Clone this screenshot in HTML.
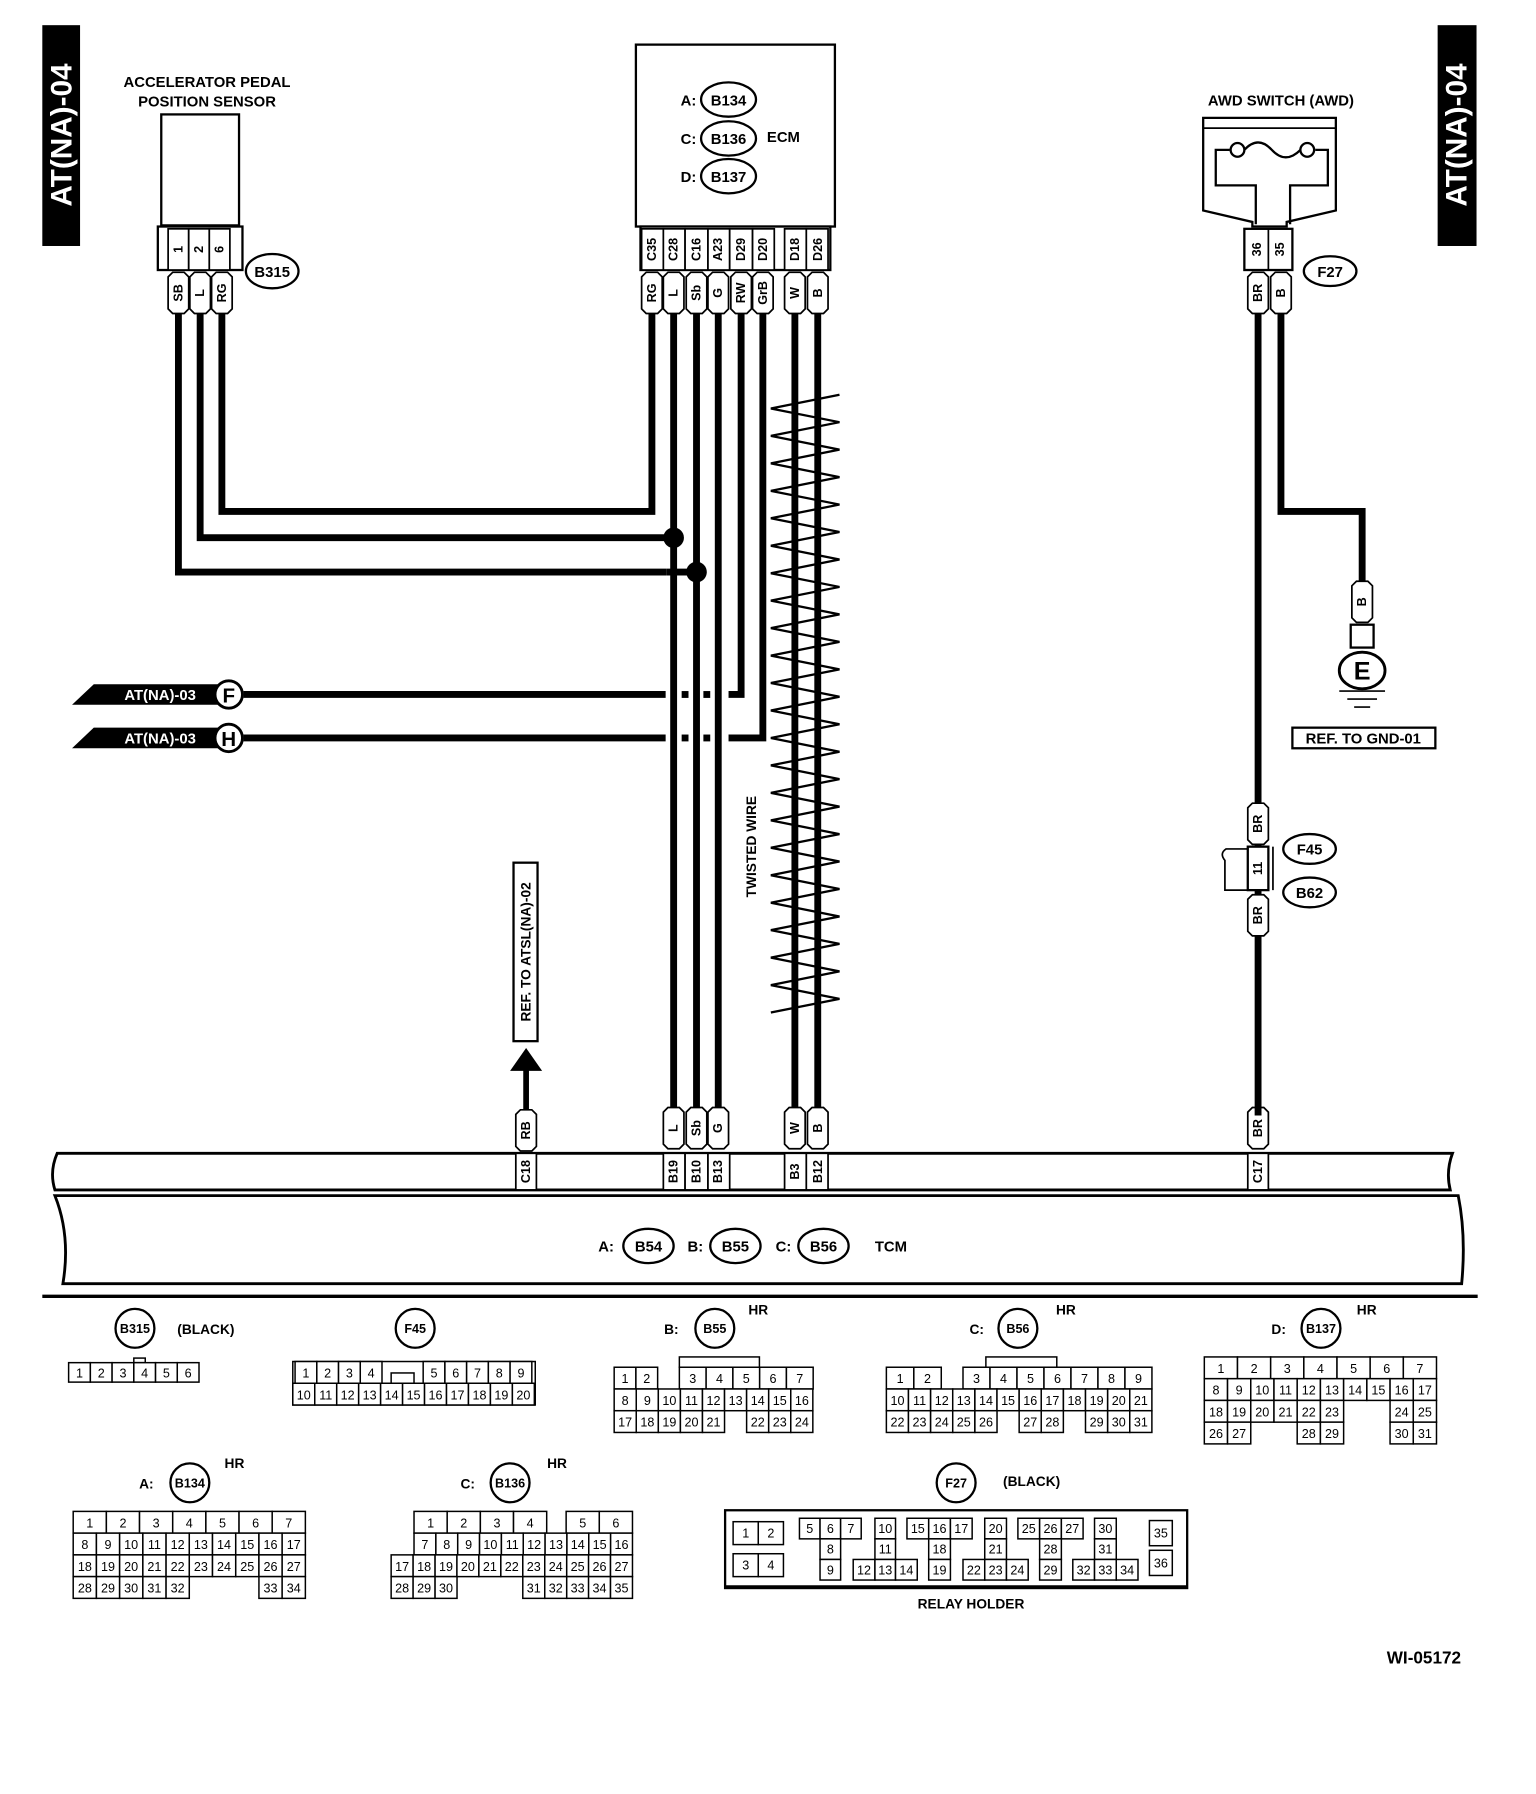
<!DOCTYPE html>
<html><head><meta charset="utf-8"><style>
html,body{margin:0;padding:0;background:#fff}
svg{display:block}
text{font-family:"Liberation Sans",sans-serif;font-weight:bold;fill:#000}
.g rect{fill:#fff;stroke:#000;stroke-width:1.3}
.g text{font-size:11px;font-weight:normal;text-anchor:middle}
.w{fill:none;stroke:#000;stroke-width:6}
.pl text{font-size:11px;text-anchor:middle;dominant-baseline:central}
.hd text{font-size:11px}
</style></head><body>
<svg width="1536" height="1794" viewBox="0 0 1343 1568" preserveAspectRatio="none" xmlns="http://www.w3.org/2000/svg">
<defs>
<polygon id="wl" points="-9,4 -5,0 5,0 9,4 9,32 5,36 -5,36 -9,32" fill="#fff" stroke="#000" stroke-width="1.5"/>
</defs>
<!-- side tabs -->
<rect x="37" y="22" width="33" height="193" fill="#000"/>
<text transform="translate(54,118) rotate(-90)" text-anchor="middle" dominant-baseline="central" style="fill:#fff;font-size:26px">AT(NA)-04</text>
<rect x="1257" y="22" width="34" height="193" fill="#000"/>
<text transform="translate(1274,118) rotate(-90)" text-anchor="middle" dominant-baseline="central" style="fill:#fff;font-size:26px">AT(NA)-04</text>

<!-- Accelerator sensor -->
<text x="181" y="76" text-anchor="middle" font-size="13">ACCELERATOR PEDAL</text>
<text x="181" y="93" text-anchor="middle" font-size="13">POSITION SENSOR</text>
<rect x="141" y="100" width="68" height="97" fill="#fff" stroke="#000" stroke-width="2"/>
<rect x="138" y="198" width="74" height="38" fill="#fff" stroke="#000" stroke-width="2"/>
<g fill="#fff" stroke="#000" stroke-width="1.5"><rect x="147" y="200" width="18" height="36"/><rect x="165" y="200" width="18" height="36"/><rect x="183" y="200" width="18" height="36"/></g>
<g class="pl"><text transform="translate(156,218) rotate(-90)">1</text><text transform="translate(174,218) rotate(-90)">2</text><text transform="translate(192,218) rotate(-90)">6</text></g>
<ellipse cx="238" cy="237" rx="23" ry="15" fill="#fff" stroke="#000" stroke-width="2"/>
<text x="238" y="242" text-anchor="middle" font-size="13">B315</text>

<!-- ECM -->
<rect x="556" y="39" width="174" height="159" fill="#fff" stroke="#000" stroke-width="2"/>
<g font-size="13"><text x="602" y="92" text-anchor="middle">A:</text><text x="602" y="126" text-anchor="middle">C:</text><text x="602" y="159" text-anchor="middle">D:</text><text x="685" y="124" text-anchor="middle">ECM</text></g>
<g fill="#fff" stroke="#000" stroke-width="2"><ellipse cx="637" cy="87" rx="24" ry="15"/><ellipse cx="637" cy="121" rx="24" ry="15"/><ellipse cx="637" cy="154" rx="24" ry="15"/></g>
<g font-size="13" text-anchor="middle"><text x="637" y="92">B134</text><text x="637" y="126">B136</text><text x="637" y="159">B137</text></g>
<rect x="560" y="198" width="166" height="38" fill="#fff" stroke="#000" stroke-width="2"/>
<g fill="#fff" stroke="#000" stroke-width="1.5"><rect x="561" y="200" width="19" height="36"/><rect x="580" y="200" width="19" height="36"/><rect x="599" y="200" width="20" height="36"/><rect x="619" y="200" width="19" height="36"/><rect x="638" y="200" width="20" height="36"/><rect x="658" y="200" width="19" height="36"/><rect x="686" y="200" width="19" height="36"/><rect x="705" y="200" width="19" height="36"/></g>
<g class="pl"><text transform="translate(570,218) rotate(-90)">C35</text><text transform="translate(589,218) rotate(-90)">C28</text><text transform="translate(609,218) rotate(-90)">C16</text><text transform="translate(628,218) rotate(-90)">A23</text><text transform="translate(648,218) rotate(-90)">D29</text><text transform="translate(667,218) rotate(-90)">D20</text><text transform="translate(695,218) rotate(-90)">D18</text><text transform="translate(715,218) rotate(-90)">D26</text></g>

<!-- wires -->
<polyline class="w" points="570,270 570,447 194,447 194,270"/>
<polyline class="w" points="589,270 589,975"/>
<polyline class="w" points="175,270 175,470 589,470"/>
<polyline class="w" points="609,270 609,975"/>
<polyline class="w" points="156,270 156,500 583,500"/>
<line class="w" x1="583" y1="500" x2="609" y2="500"/>
<circle cx="589" cy="470" r="9"/><circle cx="609" cy="500" r="9"/>
<polyline class="w" points="628,270 628,975"/>
<polyline class="w" points="648,270 648,607 637,607"/>
<line class="w" x1="213" y1="607" x2="582" y2="607"/>
<line class="w" x1="596" y1="607" x2="602" y2="607"/><line class="w" x1="615" y1="607" x2="621" y2="607"/>
<polyline class="w" points="667,270 667,645 637,645"/>
<line class="w" x1="213" y1="645" x2="582" y2="645"/>
<line class="w" x1="596" y1="645" x2="602" y2="645"/><line class="w" x1="615" y1="645" x2="621" y2="645"/>
<polyline class="w" points="695,270 695,975"/>
<polyline class="w" points="715,270 715,975"/>
<polyline fill="none" stroke="#000" stroke-width="2" points="734,345 674,357 734,369 674,381 734,393 674,405 734,417 674,429 734,441 674,453 734,465 674,477 734,489 674,501 734,513 674,525 734,537 674,549 734,561 674,573 734,585 674,597 734,609 674,621 734,633 674,645 734,657 674,669 734,681 674,693 734,705 674,717 734,729 674,741 734,753 674,765 734,777 674,789 734,801 674,813 734,825 674,837 734,849 674,861 734,873 674,885 734"/>
<text transform="translate(661,740) rotate(-90)" text-anchor="middle" font-size="12">TWISTED WIRE</text>

<!-- ECM wire labels -->
<use href="#wl" x="570" y="238"/><use href="#wl" x="589" y="238"/><use href="#wl" x="609" y="238"/><use href="#wl" x="628" y="238"/><use href="#wl" x="648" y="238"/><use href="#wl" x="667" y="238"/><use href="#wl" x="695" y="238"/><use href="#wl" x="715" y="238"/>
<use href="#wl" x="156" y="238"/><use href="#wl" x="175" y="238"/><use href="#wl" x="194" y="238"/>
<g class="pl"><text transform="translate(570,256) rotate(-90)">RG</text><text transform="translate(589,256) rotate(-90)">L</text><text transform="translate(609,256) rotate(-90)">Sb</text><text transform="translate(628,256) rotate(-90)">G</text><text transform="translate(648,256) rotate(-90)">RW</text><text transform="translate(667,256) rotate(-90)">GrB</text><text transform="translate(695,256) rotate(-90)">W</text><text transform="translate(715,256) rotate(-90)">B</text>
<text transform="translate(156,256) rotate(-90)">SB</text><text transform="translate(175,256) rotate(-90)">L</text><text transform="translate(194,256) rotate(-90)">RG</text></g>

<!-- F/H flags -->
<polygon points="63,616 82,598 200,598 200,616" fill="#000"/>
<text x="140" y="612" text-anchor="middle" font-size="13" font-weight="normal" style="fill:#fff">AT(NA)-03</text>
<circle cx="200" cy="607" r="12" fill="#fff" stroke="#000" stroke-width="2.5"/><text x="200" y="614" text-anchor="middle" font-size="18">F</text>
<polygon points="63,654 82,636 200,636 200,654" fill="#000"/>
<text x="140" y="650" text-anchor="middle" font-size="13" font-weight="normal" style="fill:#fff">AT(NA)-03</text>
<circle cx="200" cy="645" r="12" fill="#fff" stroke="#000" stroke-width="2.5"/><text x="200" y="652" text-anchor="middle" font-size="18">H</text>

<!-- REF ATSL -->
<rect x="449" y="754" width="21" height="156" fill="#fff" stroke="#000" stroke-width="2"/>
<text transform="translate(460,832) rotate(-90)" text-anchor="middle" dominant-baseline="central" font-size="12">REF. TO ATSL(NA)-02</text>
<polygon points="460,916 446,936 474,936" fill="#000"/>
<line x1="460" y1="934" x2="460" y2="975" stroke="#000" stroke-width="5"/>

<!-- bottom wire labels -->
<use href="#wl" x="460" y="970"/><use href="#wl" x="589" y="968"/><use href="#wl" x="609" y="968"/><use href="#wl" x="628" y="968"/><use href="#wl" x="695" y="968"/><use href="#wl" x="715" y="968"/><use href="#wl" x="1100" y="968"/>
<g class="pl"><text transform="translate(460,988) rotate(-90)">RB</text><text transform="translate(589,986) rotate(-90)">L</text><text transform="translate(609,986) rotate(-90)">Sb</text><text transform="translate(628,986) rotate(-90)">G</text><text transform="translate(695,986) rotate(-90)">W</text><text transform="translate(715,986) rotate(-90)">B</text><text transform="translate(1100,986) rotate(-90)">BR</text></g>

<!-- TCM -->
<path d="M50,1008 L1270,1008 Q1264,1024 1268,1040 L48,1040 Q43,1024 50,1008 Z" fill="#fff" stroke="#000" stroke-width="2.5"/>
<path d="M48,1045 L1275,1045 Q1282,1080 1278,1122 L55,1122 Q62,1080 48,1045 Z" fill="#fff" stroke="#000" stroke-width="2.5"/>
<g fill="#fff" stroke="#000" stroke-width="1.5"><rect x="451" y="1008" width="18" height="32"/><rect x="580" y="1008" width="19" height="32"/><rect x="599" y="1008" width="20" height="32"/><rect x="619" y="1008" width="19" height="32"/><rect x="686" y="1008" width="19" height="32"/><rect x="705" y="1008" width="19" height="32"/><rect x="1091" y="1008" width="18" height="32"/></g>
<g class="pl"><text transform="translate(460,1024) rotate(-90)">C18</text><text transform="translate(589,1024) rotate(-90)">B19</text><text transform="translate(609,1024) rotate(-90)">B10</text><text transform="translate(628,1024) rotate(-90)">B13</text><text transform="translate(695,1024) rotate(-90)">B3</text><text transform="translate(715,1024) rotate(-90)">B12</text><text transform="translate(1100,1024) rotate(-90)">C17</text></g>
<g font-size="13" text-anchor="middle"><text x="530" y="1094">A:</text><text x="608" y="1094">B:</text><text x="685" y="1094">C:</text><text x="779" y="1094">TCM</text></g>
<g fill="#fff" stroke="#000" stroke-width="2"><ellipse cx="567" cy="1089" rx="22" ry="15"/><ellipse cx="643" cy="1089" rx="22" ry="15"/><ellipse cx="720" cy="1089" rx="22" ry="15"/></g>
<g font-size="13" text-anchor="middle"><text x="567" y="1094">B54</text><text x="643" y="1094">B55</text><text x="720" y="1094">B56</text></g>
<line x1="37" y1="1133" x2="1292" y2="1133" stroke="#000" stroke-width="3"/>

<!-- AWD switch -->
<text x="1120" y="92" text-anchor="middle" font-size="13">AWD SWITCH (AWD)</text>
<path d="M1052,103 H1168 V184 L1125,194 V198 H1095 V194 L1052,184 Z" fill="#fff" stroke="#000" stroke-width="2"/>
<line x1="1052" y1="112" x2="1168" y2="112" stroke="#000" stroke-width="1.5"/>
<path d="M1098,196 V162 H1063 V131 H1075 M1150,131 H1161 V162 H1128 V196" fill="none" stroke="#000" stroke-width="2"/>
<circle cx="1082" cy="131" r="6" fill="#fff" stroke="#000" stroke-width="2"/><circle cx="1143" cy="131" r="6" fill="#fff" stroke="#000" stroke-width="2"/>
<path d="M1088,131 Q1100,118 1112,131 Q1124,144 1137,131" fill="none" stroke="#000" stroke-width="2"/>
<rect x="1088" y="200" width="42" height="36" fill="#fff" stroke="#000" stroke-width="2"/>
<line x1="1109" y1="200" x2="1109" y2="236" stroke="#000" stroke-width="1.5"/>
<g class="pl"><text transform="translate(1099,218) rotate(-90)">36</text><text transform="translate(1119,218) rotate(-90)">35</text></g>
<ellipse cx="1163" cy="237" rx="23" ry="13" fill="#fff" stroke="#000" stroke-width="2"/><text x="1163" y="242" text-anchor="middle" font-size="13">F27</text>
<polyline class="w" points="1100,270 1100,975"/>
<polyline class="w" points="1120,270 1120,447 1191,447 1191,510"/>
<use href="#wl" x="1100" y="238"/><use href="#wl" x="1120" y="238"/>
<g class="pl"><text transform="translate(1100,256) rotate(-90)">BR</text><text transform="translate(1120,256) rotate(-90)">B</text></g>
<use href="#wl" x="1191" y="508"/>
<g class="pl"><text transform="translate(1191,526) rotate(-90)">B</text></g>
<rect x="1181" y="546" width="20" height="20" fill="#fff" stroke="#000" stroke-width="2"/>
<ellipse cx="1191" cy="586" rx="20" ry="16" fill="#fff" stroke="#000" stroke-width="2.5"/><text x="1191" y="594" text-anchor="middle" font-size="22">E</text>
<g stroke="#000" stroke-width="1.5"><line x1="1171" y1="604" x2="1211" y2="604"/><line x1="1178" y1="611" x2="1204" y2="611"/><line x1="1184" y1="618" x2="1198" y2="618"/></g>
<rect x="1130" y="636" width="125" height="18" fill="#fff" stroke="#000" stroke-width="2"/>
<text x="1192" y="650" text-anchor="middle" font-size="13">REF. TO GND-01</text>
<!-- F45/B62 -->
<use href="#wl" x="1100" y="702"/><use href="#wl" x="1100" y="782"/>
<rect x="1091" y="740" width="18" height="38" fill="#fff" stroke="#000" stroke-width="2"/>
<path d="M1091,742 H1072 Q1066,746 1071,752 V778 H1091" fill="none" stroke="#000" stroke-width="1.5"/>
<line x1="1113" y1="740" x2="1113" y2="778" stroke="#000" stroke-width="1.5"/>
<g class="pl"><text transform="translate(1100,720) rotate(-90)">BR</text><text transform="translate(1100,759) rotate(-90)">11</text><text transform="translate(1100,800) rotate(-90)">BR</text></g>
<ellipse cx="1145" cy="742" rx="23" ry="13" fill="#fff" stroke="#000" stroke-width="2"/><text x="1145" y="747" text-anchor="middle" font-size="13">F45</text>
<ellipse cx="1145" cy="780" rx="23" ry="13" fill="#fff" stroke="#000" stroke-width="2"/><text x="1145" y="785" text-anchor="middle" font-size="13">B62</text>

<!-- connector headers -->
<g fill="#fff" stroke="#000" stroke-width="2">
<ellipse cx="118" cy="1161" rx="17" ry="17"/><ellipse cx="363" cy="1161" rx="17" ry="17"/><ellipse cx="625" cy="1161" rx="17" ry="17"/><ellipse cx="890" cy="1161" rx="17" ry="17"/><ellipse cx="1155" cy="1161" rx="17" ry="17"/>
<ellipse cx="166" cy="1296" rx="17" ry="17"/><ellipse cx="446" cy="1296" rx="17" ry="17"/><ellipse cx="836" cy="1296" rx="17" ry="17"/></g>
<g font-size="12" text-anchor="middle">
<text x="118" y="1165" font-size="11">B315</text><text x="180" y="1166">(BLACK)</text><text x="363" y="1165" font-size="11">F45</text>
<text x="587" y="1166">B:</text><text x="625" y="1165" font-size="11">B55</text><text x="663" y="1149">HR</text>
<text x="854" y="1166">C:</text><text x="890" y="1165" font-size="11">B56</text><text x="932" y="1149">HR</text>
<text x="1118" y="1166">D:</text><text x="1155" y="1165" font-size="11">B137</text><text x="1195" y="1149">HR</text>
<text x="128" y="1301">A:</text><text x="166" y="1300" font-size="11">B134</text><text x="205" y="1283">HR</text>
<text x="409" y="1301">C:</text><text x="446" y="1300" font-size="11">B136</text><text x="487" y="1283">HR</text>
<text x="836" y="1300" font-size="11">F27</text><text x="902" y="1299">(BLACK)</text>
<text x="849" y="1406">RELAY HOLDER</text>
</g>
<text x="1245" y="1454" text-anchor="middle" font-size="15" font-weight="normal">WI-05172</text>

<!-- B315 grid -->
<g class="g">
<rect x="117" y="1187" width="10" height="4"/>
<rect x="60" y="1191" width="19" height="17"/><text x="69.5" y="1204">1</text>
<rect x="79" y="1191" width="19" height="17"/><text x="88.5" y="1204">2</text>
<rect x="98" y="1191" width="19" height="17"/><text x="107.5" y="1204">3</text>
<rect x="117" y="1191" width="19" height="17"/><text x="126.5" y="1204">4</text>
<rect x="136" y="1191" width="19" height="17"/><text x="145.5" y="1204">5</text>
<rect x="155" y="1191" width="19" height="17"/><text x="164.5" y="1204">6</text>
</g>
<!-- F45 grid -->
<g class="g">
<rect x="256" y="1190" width="212" height="38"/>
<rect x="258" y="1190" width="19" height="19"/><text x="267.5" y="1204">1</text>
<rect x="277" y="1190" width="19" height="19"/><text x="286.5" y="1204">2</text>
<rect x="296" y="1190" width="19" height="19"/><text x="305.5" y="1204">3</text>
<rect x="315" y="1190" width="19" height="19"/><text x="324.5" y="1204">4</text>
<rect x="342" y="1200" width="20" height="9"/>
<rect x="370" y="1190" width="19" height="19"/><text x="379.5" y="1204">5</text>
<rect x="389" y="1190" width="19" height="19"/><text x="398.5" y="1204">6</text>
<rect x="408" y="1190" width="19" height="19"/><text x="417.5" y="1204">7</text>
<rect x="427" y="1190" width="19" height="19"/><text x="436.5" y="1204">8</text>
<rect x="446" y="1190" width="19" height="19"/><text x="455.5" y="1204">9</text>
<rect x="256" y="1209" width="19.2" height="19"/><text x="265.6" y="1223">10</text>
<rect x="275.2" y="1209" width="19.2" height="19"/><text x="284.8" y="1223">11</text>
<rect x="294.4" y="1209" width="19.2" height="19"/><text x="304" y="1223">12</text>
<rect x="313.6" y="1209" width="19.2" height="19"/><text x="323.2" y="1223">13</text>
<rect x="332.8" y="1209" width="19.2" height="19"/><text x="342.4" y="1223">14</text>
<rect x="352" y="1209" width="19.2" height="19"/><text x="361.6" y="1223">15</text>
<rect x="371.2" y="1209" width="19.2" height="19"/><text x="380.8" y="1223">16</text>
<rect x="390.4" y="1209" width="19.2" height="19"/><text x="400" y="1223">17</text>
<rect x="409.6" y="1209" width="19.2" height="19"/><text x="419.2" y="1223">18</text>
<rect x="428.8" y="1209" width="19.2" height="19"/><text x="438.4" y="1223">19</text>
<rect x="448" y="1209" width="19.2" height="19"/><text x="457.6" y="1223">20</text>
</g>
<!-- B55 grid -->
<g class="g">
<rect x="594" y="1186" width="70" height="9"/>
<rect x="537" y="1195" width="19" height="19"/><text x="546.5" y="1209">1</text>
<rect x="556" y="1195" width="19" height="19"/><text x="565.5" y="1209">2</text>
<rect x="594" y="1195" width="23.4" height="19"/><text x="605.7" y="1209">3</text>
<rect x="617.4" y="1195" width="23.4" height="19"/><text x="629.1" y="1209">4</text>
<rect x="640.8" y="1195" width="23.4" height="19"/><text x="652.5" y="1209">5</text>
<rect x="664.2" y="1195" width="23.4" height="19"/><text x="675.9" y="1209">6</text>
<rect x="687.6" y="1195" width="23.4" height="19"/><text x="699.3" y="1209">7</text>
<rect x="537" y="1214" width="19.3" height="19"/><text x="546.6" y="1228">8</text>
<rect x="556.3" y="1214" width="19.3" height="19"/><text x="566" y="1228">9</text>
<rect x="575.6" y="1214" width="19.3" height="19"/><text x="585.3" y="1228">10</text>
<rect x="594.9" y="1214" width="19.3" height="19"/><text x="604.6" y="1228">11</text>
<rect x="614.2" y="1214" width="19.3" height="19"/><text x="623.9" y="1228">12</text>
<rect x="633.5" y="1214" width="19.3" height="19"/><text x="643.2" y="1228">13</text>
<rect x="652.8" y="1214" width="19.3" height="19"/><text x="662.5" y="1228">14</text>
<rect x="672.1" y="1214" width="19.3" height="19"/><text x="681.8" y="1228">15</text>
<rect x="691.4" y="1214" width="19.3" height="19"/><text x="701.1" y="1228">16</text>
<rect x="537" y="1233" width="19.3" height="19"/><text x="546.6" y="1247">17</text>
<rect x="556.3" y="1233" width="19.3" height="19"/><text x="566" y="1247">18</text>
<rect x="575.6" y="1233" width="19.3" height="19"/><text x="585.3" y="1247">19</text>
<rect x="594.9" y="1233" width="19.3" height="19"/><text x="604.6" y="1247">20</text>
<rect x="614.2" y="1233" width="19.3" height="19"/><text x="623.9" y="1247">21</text>
<rect x="652.8" y="1233" width="19.3" height="19"/><text x="662.5" y="1247">22</text>
<rect x="672.1" y="1233" width="19.3" height="19"/><text x="681.8" y="1247">23</text>
<rect x="691.4" y="1233" width="19.3" height="19"/><text x="701.1" y="1247">24</text>
</g>
<!-- B56 grid -->
<g class="g">
<rect x="862" y="1186" width="62" height="9"/>
<rect x="775" y="1195" width="24" height="19"/><text x="787" y="1209">1</text>
<rect x="799" y="1195" width="24" height="19"/><text x="811" y="1209">2</text>
<rect x="842" y="1195" width="23.6" height="19"/><text x="853.8" y="1209">3</text>
<rect x="865.6" y="1195" width="23.6" height="19"/><text x="877.4" y="1209">4</text>
<rect x="889.2" y="1195" width="23.6" height="19"/><text x="901" y="1209">5</text>
<rect x="912.8" y="1195" width="23.6" height="19"/><text x="924.6" y="1209">6</text>
<rect x="936.4" y="1195" width="23.6" height="19"/><text x="948.2" y="1209">7</text>
<rect x="960" y="1195" width="23.6" height="19"/><text x="971.8" y="1209">8</text>
<rect x="983.6" y="1195" width="23.6" height="19"/><text x="995.4" y="1209">9</text>
<rect x="775" y="1214" width="19.35" height="19"/><text x="784.7" y="1228">10</text>
<rect x="794.3" y="1214" width="19.35" height="19"/><text x="804" y="1228">11</text>
<rect x="813.7" y="1214" width="19.35" height="19"/><text x="823.4" y="1228">12</text>
<rect x="833" y="1214" width="19.35" height="19"/><text x="842.7" y="1228">13</text>
<rect x="852.4" y="1214" width="19.35" height="19"/><text x="862.1" y="1228">14</text>
<rect x="871.7" y="1214" width="19.35" height="19"/><text x="881.4" y="1228">15</text>
<rect x="891.1" y="1214" width="19.35" height="19"/><text x="900.8" y="1228">16</text>
<rect x="910.4" y="1214" width="19.35" height="19"/><text x="920.1" y="1228">17</text>
<rect x="929.8" y="1214" width="19.35" height="19"/><text x="939.5" y="1228">18</text>
<rect x="949.1" y="1214" width="19.35" height="19"/><text x="958.8" y="1228">19</text>
<rect x="968.5" y="1214" width="19.35" height="19"/><text x="978.2" y="1228">20</text>
<rect x="987.8" y="1214" width="19.35" height="19"/><text x="997.5" y="1228">21</text>
<rect x="775" y="1233" width="19.35" height="19"/><text x="784.7" y="1247">22</text>
<rect x="794.3" y="1233" width="19.35" height="19"/><text x="804" y="1247">23</text>
<rect x="813.7" y="1233" width="19.35" height="19"/><text x="823.4" y="1247">24</text>
<rect x="833" y="1233" width="19.35" height="19"/><text x="842.7" y="1247">25</text>
<rect x="852.4" y="1233" width="19.35" height="19"/><text x="862.1" y="1247">26</text>
<rect x="891.1" y="1233" width="19.35" height="19"/><text x="900.8" y="1247">27</text>
<rect x="910.4" y="1233" width="19.35" height="19"/><text x="920.1" y="1247">28</text>
<rect x="949.1" y="1233" width="19.35" height="19"/><text x="958.8" y="1247">29</text>
<rect x="968.5" y="1233" width="19.35" height="19"/><text x="978.2" y="1247">30</text>
<rect x="987.8" y="1233" width="19.35" height="19"/><text x="997.5" y="1247">31</text>
</g>
<!-- B137 grid -->
<g class="g">
<rect x="1053" y="1186" width="29" height="19"/><text x="1067.5" y="1200">1</text>
<rect x="1082" y="1186" width="29" height="19"/><text x="1096.5" y="1200">2</text>
<rect x="1111" y="1186" width="29" height="19"/><text x="1125.5" y="1200">3</text>
<rect x="1140" y="1186" width="29" height="19"/><text x="1154.5" y="1200">4</text>
<rect x="1169" y="1186" width="29" height="19"/><text x="1183.5" y="1200">5</text>
<rect x="1198" y="1186" width="29" height="19"/><text x="1212.5" y="1200">6</text>
<rect x="1227" y="1186" width="29" height="19"/><text x="1241.5" y="1200">7</text>
<rect x="1053" y="1205" width="20.3" height="19"/><text x="1063.2" y="1219">8</text>
<rect x="1073.3" y="1205" width="20.3" height="19"/><text x="1083.4" y="1219">9</text>
<rect x="1093.6" y="1205" width="20.3" height="19"/><text x="1103.7" y="1219">10</text>
<rect x="1113.9" y="1205" width="20.3" height="19"/><text x="1124" y="1219">11</text>
<rect x="1134.2" y="1205" width="20.3" height="19"/><text x="1144.3" y="1219">12</text>
<rect x="1154.5" y="1205" width="20.3" height="19"/><text x="1164.6" y="1219">13</text>
<rect x="1174.8" y="1205" width="20.3" height="19"/><text x="1184.9" y="1219">14</text>
<rect x="1195.1" y="1205" width="20.3" height="19"/><text x="1205.2" y="1219">15</text>
<rect x="1215.4" y="1205" width="20.3" height="19"/><text x="1225.5" y="1219">16</text>
<rect x="1235.7" y="1205" width="20.3" height="19"/><text x="1245.8" y="1219">17</text>
<rect x="1053" y="1224" width="20.3" height="19"/><text x="1063.2" y="1238">18</text>
<rect x="1073.3" y="1224" width="20.3" height="19"/><text x="1083.4" y="1238">19</text>
<rect x="1093.6" y="1224" width="20.3" height="19"/><text x="1103.7" y="1238">20</text>
<rect x="1113.9" y="1224" width="20.3" height="19"/><text x="1124" y="1238">21</text>
<rect x="1134.2" y="1224" width="20.3" height="19"/><text x="1144.3" y="1238">22</text>
<rect x="1154.5" y="1224" width="20.3" height="19"/><text x="1164.6" y="1238">23</text>
<rect x="1215.4" y="1224" width="20.3" height="19"/><text x="1225.5" y="1238">24</text>
<rect x="1235.7" y="1224" width="20.3" height="19"/><text x="1245.8" y="1238">25</text>
<rect x="1053" y="1243" width="20.3" height="19"/><text x="1063.2" y="1257">26</text>
<rect x="1073.3" y="1243" width="20.3" height="19"/><text x="1083.4" y="1257">27</text>
<rect x="1134.2" y="1243" width="20.3" height="19"/><text x="1144.3" y="1257">28</text>
<rect x="1154.5" y="1243" width="20.3" height="19"/><text x="1164.6" y="1257">29</text>
<rect x="1215.4" y="1243" width="20.3" height="19"/><text x="1225.5" y="1257">30</text>
<rect x="1235.7" y="1243" width="20.3" height="19"/><text x="1245.8" y="1257">31</text>
</g>
<!-- B134 grid -->
<g class="g">
<rect x="64" y="1321" width="29" height="19"/><text x="78.5" y="1335">1</text>
<rect x="93" y="1321" width="29" height="19"/><text x="107.5" y="1335">2</text>
<rect x="122" y="1321" width="29" height="19"/><text x="136.5" y="1335">3</text>
<rect x="151" y="1321" width="29" height="19"/><text x="165.5" y="1335">4</text>
<rect x="180" y="1321" width="29" height="19"/><text x="194.5" y="1335">5</text>
<rect x="209" y="1321" width="29" height="19"/><text x="223.5" y="1335">6</text>
<rect x="238" y="1321" width="29" height="19"/><text x="252.5" y="1335">7</text>
<rect x="64" y="1340" width="20.3" height="19"/><text x="74.2" y="1354">8</text>
<rect x="84.3" y="1340" width="20.3" height="19"/><text x="94.4" y="1354">9</text>
<rect x="104.6" y="1340" width="20.3" height="19"/><text x="114.7" y="1354">10</text>
<rect x="124.9" y="1340" width="20.3" height="19"/><text x="135" y="1354">11</text>
<rect x="145.2" y="1340" width="20.3" height="19"/><text x="155.3" y="1354">12</text>
<rect x="165.5" y="1340" width="20.3" height="19"/><text x="175.6" y="1354">13</text>
<rect x="185.8" y="1340" width="20.3" height="19"/><text x="195.9" y="1354">14</text>
<rect x="206.1" y="1340" width="20.3" height="19"/><text x="216.2" y="1354">15</text>
<rect x="226.4" y="1340" width="20.3" height="19"/><text x="236.5" y="1354">16</text>
<rect x="246.7" y="1340" width="20.3" height="19"/><text x="256.8" y="1354">17</text>
<rect x="64" y="1359" width="20.3" height="19"/><text x="74.2" y="1373">18</text>
<rect x="84.3" y="1359" width="20.3" height="19"/><text x="94.4" y="1373">19</text>
<rect x="104.6" y="1359" width="20.3" height="19"/><text x="114.7" y="1373">20</text>
<rect x="124.9" y="1359" width="20.3" height="19"/><text x="135" y="1373">21</text>
<rect x="145.2" y="1359" width="20.3" height="19"/><text x="155.3" y="1373">22</text>
<rect x="165.5" y="1359" width="20.3" height="19"/><text x="175.6" y="1373">23</text>
<rect x="185.8" y="1359" width="20.3" height="19"/><text x="195.9" y="1373">24</text>
<rect x="206.1" y="1359" width="20.3" height="19"/><text x="216.2" y="1373">25</text>
<rect x="226.4" y="1359" width="20.3" height="19"/><text x="236.5" y="1373">26</text>
<rect x="246.7" y="1359" width="20.3" height="19"/><text x="256.8" y="1373">27</text>
<rect x="64" y="1378" width="20.3" height="19"/><text x="74.2" y="1392">28</text>
<rect x="84.3" y="1378" width="20.3" height="19"/><text x="94.4" y="1392">29</text>
<rect x="104.6" y="1378" width="20.3" height="19"/><text x="114.7" y="1392">30</text>
<rect x="124.9" y="1378" width="20.3" height="19"/><text x="135" y="1392">31</text>
<rect x="145.2" y="1378" width="20.3" height="19"/><text x="155.3" y="1392">32</text>
<rect x="226.4" y="1378" width="20.3" height="19"/><text x="236.5" y="1392">33</text>
<rect x="246.7" y="1378" width="20.3" height="19"/><text x="256.8" y="1392">34</text>
</g>
<!-- B136 grid -->
<g class="g">
<rect x="362" y="1321" width="29" height="19"/><text x="376.5" y="1335">1</text>
<rect x="391" y="1321" width="29" height="19"/><text x="405.5" y="1335">2</text>
<rect x="420" y="1321" width="29" height="19"/><text x="434.5" y="1335">3</text>
<rect x="449" y="1321" width="29" height="19"/><text x="463.5" y="1335">4</text>
<rect x="495" y="1321" width="29" height="19"/><text x="509.5" y="1335">5</text>
<rect x="524" y="1321" width="29" height="19"/><text x="538.5" y="1335">6</text>
<rect x="362" y="1340" width="19.1" height="19"/><text x="371.5" y="1354">7</text>
<rect x="381.1" y="1340" width="19.1" height="19"/><text x="390.6" y="1354">8</text>
<rect x="400.2" y="1340" width="19.1" height="19"/><text x="409.7" y="1354">9</text>
<rect x="419.3" y="1340" width="19.1" height="19"/><text x="428.8" y="1354">10</text>
<rect x="438.4" y="1340" width="19.1" height="19"/><text x="447.9" y="1354">11</text>
<rect x="457.5" y="1340" width="19.1" height="19"/><text x="467" y="1354">12</text>
<rect x="476.6" y="1340" width="19.1" height="19"/><text x="486.1" y="1354">13</text>
<rect x="495.7" y="1340" width="19.1" height="19"/><text x="505.2" y="1354">14</text>
<rect x="514.8" y="1340" width="19.1" height="19"/><text x="524.3" y="1354">15</text>
<rect x="533.9" y="1340" width="19.1" height="19"/><text x="543.4" y="1354">16</text>
<rect x="342" y="1359" width="19.2" height="19"/><text x="351.6" y="1373">17</text>
<rect x="361.2" y="1359" width="19.2" height="19"/><text x="370.8" y="1373">18</text>
<rect x="380.4" y="1359" width="19.2" height="19"/><text x="390" y="1373">19</text>
<rect x="399.5" y="1359" width="19.2" height="19"/><text x="409.1" y="1373">20</text>
<rect x="418.7" y="1359" width="19.2" height="19"/><text x="428.3" y="1373">21</text>
<rect x="437.9" y="1359" width="19.2" height="19"/><text x="447.5" y="1373">22</text>
<rect x="457.1" y="1359" width="19.2" height="19"/><text x="466.7" y="1373">23</text>
<rect x="476.3" y="1359" width="19.2" height="19"/><text x="485.9" y="1373">24</text>
<rect x="495.5" y="1359" width="19.2" height="19"/><text x="505.1" y="1373">25</text>
<rect x="514.6" y="1359" width="19.2" height="19"/><text x="524.2" y="1373">26</text>
<rect x="533.8" y="1359" width="19.2" height="19"/><text x="543.4" y="1373">27</text>
<rect x="342" y="1378" width="19.2" height="19"/><text x="351.6" y="1392">28</text>
<rect x="361.2" y="1378" width="19.2" height="19"/><text x="370.8" y="1392">29</text>
<rect x="380.4" y="1378" width="19.2" height="19"/><text x="390" y="1392">30</text>
<rect x="457.1" y="1378" width="19.2" height="19"/><text x="466.7" y="1392">31</text>
<rect x="476.3" y="1378" width="19.2" height="19"/><text x="485.9" y="1392">32</text>
<rect x="495.5" y="1378" width="19.2" height="19"/><text x="505.1" y="1392">33</text>
<rect x="514.6" y="1378" width="19.2" height="19"/><text x="524.2" y="1392">34</text>
<rect x="533.8" y="1378" width="19.2" height="19"/><text x="543.4" y="1392">35</text>
</g>
<!-- F27 relay holder -->
<rect x="634" y="1320" width="404" height="68" fill="#fff" stroke="#000" stroke-width="2"/>
<line x1="634" y1="1387" x2="1038" y2="1387" stroke="#000" stroke-width="3"/>
<g class="g">
<rect x="641" y="1330" width="22" height="20"/><text x="652" y="1344">1</text>
<rect x="663" y="1330" width="22" height="20"/><text x="674" y="1344">2</text>
<rect x="641" y="1358" width="22" height="20"/><text x="652" y="1372">3</text>
<rect x="663" y="1358" width="22" height="20"/><text x="674" y="1372">4</text>
<rect x="699" y="1327" width="18" height="18"/><text x="708" y="1340">5</text>
<rect x="717" y="1327" width="18" height="18"/><text x="726" y="1340">6</text>
<rect x="735" y="1327" width="18" height="18"/><text x="744" y="1340">7</text>
<rect x="717" y="1345" width="18" height="18"/><text x="726" y="1358">8</text>
<rect x="717" y="1363" width="18" height="18"/><text x="726" y="1376">9</text>
<rect x="765" y="1327" width="18" height="18"/><text x="774" y="1340">10</text>
<rect x="765" y="1345" width="18" height="18"/><text x="774" y="1358">11</text>
<rect x="746" y="1363" width="19" height="18"/><text x="755.5" y="1376">12</text>
<rect x="765" y="1363" width="18" height="18"/><text x="774" y="1376">13</text>
<rect x="783" y="1363" width="19" height="18"/><text x="792.5" y="1376">14</text>
<rect x="793" y="1327" width="19" height="18"/><text x="802.5" y="1340">15</text>
<rect x="812" y="1327" width="19" height="18"/><text x="821.5" y="1340">16</text>
<rect x="831" y="1327" width="19" height="18"/><text x="840.5" y="1340">17</text>
<rect x="812" y="1345" width="19" height="18"/><text x="821.5" y="1358">18</text>
<rect x="812" y="1363" width="19" height="18"/><text x="821.5" y="1376">19</text>
<rect x="861" y="1327" width="19" height="18"/><text x="870.5" y="1340">20</text>
<rect x="861" y="1345" width="19" height="18"/><text x="870.5" y="1358">21</text>
<rect x="842" y="1363" width="19" height="18"/><text x="851.5" y="1376">22</text>
<rect x="861" y="1363" width="19" height="18"/><text x="870.5" y="1376">23</text>
<rect x="880" y="1363" width="19" height="18"/><text x="889.5" y="1376">24</text>
<rect x="890" y="1327" width="19" height="18"/><text x="899.5" y="1340">25</text>
<rect x="909" y="1327" width="19" height="18"/><text x="918.5" y="1340">26</text>
<rect x="928" y="1327" width="19" height="18"/><text x="937.5" y="1340">27</text>
<rect x="909" y="1345" width="19" height="18"/><text x="918.5" y="1358">28</text>
<rect x="909" y="1363" width="19" height="18"/><text x="918.5" y="1376">29</text>
<rect x="957" y="1327" width="19" height="18"/><text x="966.5" y="1340">30</text>
<rect x="957" y="1345" width="19" height="18"/><text x="966.5" y="1358">31</text>
<rect x="938" y="1363" width="19" height="18"/><text x="947.5" y="1376">32</text>
<rect x="957" y="1363" width="19" height="18"/><text x="966.5" y="1376">33</text>
<rect x="976" y="1363" width="19" height="18"/><text x="985.5" y="1376">34</text>
<rect x="1005" y="1329" width="20" height="22"/><text x="1015" y="1344">35</text>
<rect x="1005" y="1355" width="20" height="22"/><text x="1015" y="1370">36</text>
</g>
</svg>
</body></html>
